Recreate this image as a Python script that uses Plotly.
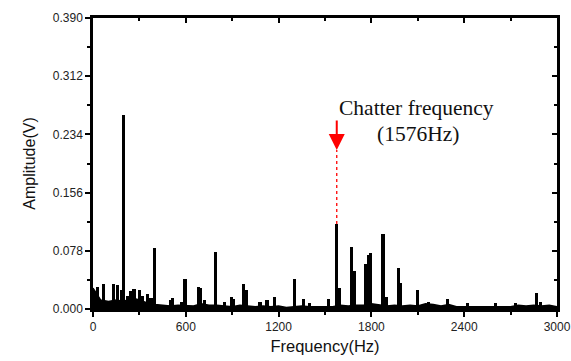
import plotly.graph_objects as go

# Broadband noise floor (Hz, V)
noise_freq = list(range(0, 3001, 50))
noise_amp = [0.028, 0.012, 0.010, 0.012, 0.010, 0.015, 0.012, 0.008, 0.006, 0.005,
             0.004, 0.005, 0.005, 0.004, 0.007, 0.005, 0.005, 0.004, 0.003, 0.005,
             0.004, 0.003, 0.004, 0.003, 0.004, 0.002, 0.003, 0.004, 0.003, 0.003,
             0.004, 0.003, 0.005, 0.004, 0.005, 0.005, 0.007, 0.005, 0.004, 0.005,
             0.004, 0.005, 0.004, 0.007, 0.006, 0.004, 0.006, 0.003, 0.003, 0.004,
             0.003, 0.004, 0.003, 0.004, 0.003, 0.005, 0.004, 0.005, 0.004, 0.005,
             0.003]

# Spectral lines (Hz, V)
peak_freq = [30, 70, 130, 160, 185, 200, 225, 245, 265, 300, 320, 355, 375, 400,
             500, 515, 570, 595, 680, 695, 720, 790, 850, 895, 910, 975, 995,
             1080, 1125, 1175, 1300, 1360, 1400, 1520, 1576, 1595, 1670, 1690,
             1760, 1780, 1795, 1875, 1895, 1975, 1990, 2100, 2170, 2290, 2420,
             2600, 2730, 2870, 2895]
peak_amp = [0.030, 0.033, 0.033, 0.032, 0.025, 0.260, 0.018, 0.024, 0.027, 0.025,
            0.018, 0.020, 0.015, 0.082, 0.012, 0.015, 0.010, 0.040, 0.030, 0.028,
            0.012, 0.077, 0.010, 0.016, 0.013, 0.034, 0.025, 0.010, 0.012, 0.016,
            0.040, 0.014, 0.008, 0.014, 0.114, 0.028, 0.083, 0.051, 0.060, 0.073,
            0.075, 0.100, 0.016, 0.055, 0.035, 0.026, 0.010, 0.014, 0.008, 0.008,
            0.008, 0.021, 0.010]

chatter_freq = 1576
chatter_amp = 0.114

x_ticks = [0, 600, 1200, 1800, 2400, 3000]
x_minor = [300, 900, 1500, 2100, 2700]
y_ticks = [0.0, 0.078, 0.156, 0.234, 0.312, 0.390]
y_ticktext = ["0.000", "0.078", "0.156", "0.234", "0.312", "0.390"]
y_minor = [0.039, 0.117, 0.195, 0.273, 0.351]

fig = go.Figure()
fig.add_trace(go.Scatter(x=noise_freq, y=noise_amp, mode="lines",
                         line=dict(color="black", width=1.5), fill="tozeroy",
                         fillcolor="black", showlegend=False, hoverinfo="skip"))
fig.add_trace(go.Bar(x=peak_freq, y=peak_amp, width=20, marker=dict(color="black", line=dict(width=0)),
                     showlegend=False))
# invisible trace for mirrored axes
fig.add_trace(go.Scatter(x=[0, 3000], y=[0, 0.39], xaxis="x2", yaxis="y2", mode="markers",
                         marker=dict(opacity=0), showlegend=False, hoverinfo="skip"))

tickfont = dict(family="Liberation Sans, Arial", size=12, color="#222")
common = dict(showline=True, linecolor="black", linewidth=2.5, showgrid=False, zeroline=False,
              tickwidth=2, tickcolor="black", ticklen=5, automargin=False)
fig.update_layout(
    width=571, height=361,
    margin=dict(l=93, r=14, t=18, b=52, autoexpand=False),
    paper_bgcolor="white", plot_bgcolor="white",
    bargap=0,
    xaxis=dict(range=[0, 3000], tickvals=x_ticks, ticks="outside", tickfont=tickfont,
               minor=dict(tickvals=x_minor, ticks="outside", ticklen=3, tickwidth=2, tickcolor="black"),
               title=dict(text="Frequency(Hz)", font=dict(family="Liberation Sans, Arial", size=16.5, color="#111"),
                          standoff=8), **common),
    yaxis=dict(range=[0, 0.39], tickvals=y_ticks, ticktext=y_ticktext, ticks="outside",
               tickfont=tickfont,
               minor=dict(tickvals=y_minor, ticks="outside", ticklen=3, tickwidth=2, tickcolor="black"),
               title=dict(text="Amplitude(V)", font=dict(family="Liberation Sans, Arial", size=16, color="#111"),
                          standoff=14), **common),
    xaxis2=dict(overlaying="x", side="top", range=[0, 3000], tickvals=x_ticks, ticks="inside",
                showticklabels=False,
                minor=dict(tickvals=x_minor, ticks="inside", ticklen=3, tickwidth=2, tickcolor="black"),
                **common),
    yaxis2=dict(overlaying="y", side="right", range=[0, 0.39], tickvals=y_ticks, ticks="inside",
                showticklabels=False,
                minor=dict(tickvals=y_minor, ticks="inside", ticklen=3, tickwidth=2, tickcolor="black"),
                **common),
)

arrow_tip = 0.213
fig.add_shape(type="line", x0=chatter_freq, x1=chatter_freq, y0=chatter_amp, y1=arrow_tip,
              xref="x", yref="y", line=dict(color="#ff0000", width=1.3, dash="dot"))
fig.add_annotation(x=chatter_freq, y=arrow_tip, ax=0, ay=-31, text="", showarrow=True,
                   arrowhead=2, arrowsize=1.6, arrowwidth=2, arrowcolor="#ff0000")
fig.add_annotation(x=chatter_freq, y=0.27, xanchor="left", yanchor="middle", xshift=0,
                   text="Chatter frequency", showarrow=False,
                   font=dict(family="Liberation Serif, Times New Roman", size=21.5, color="#111"))
fig.add_annotation(x=2100, y=0.235, xanchor="center", yanchor="middle",
                   text="(1576Hz)", showarrow=False,
                   font=dict(family="Liberation Serif, Times New Roman", size=21.5, color="#111"))

fig.write_html("out.html")
